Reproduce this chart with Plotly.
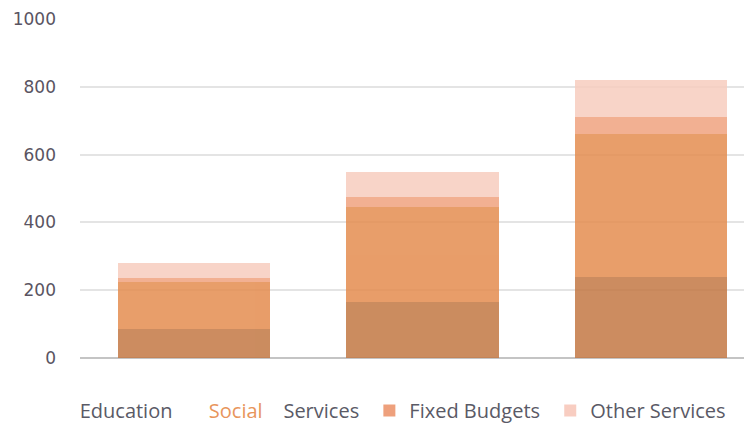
import plotly.graph_objects as go

categories = ["Group A", "Group B", "Group C"]
education = [85, 165, 240]
social_services = [140, 280, 420]
fixed_budgets = [10, 30, 50]
other_services = [45, 75, 110]
y_ticks = [0, 200, 400, 600, 800, 1000]

fig = go.Figure()
op = 0.85
fig.add_trace(go.Bar(x=categories, y=education, name="Education",
                     marker=dict(color="rgb(195,120,68)", line=dict(width=0)), opacity=op, showlegend=False))
fig.add_trace(go.Bar(x=categories, y=social_services, name="Social Services",
                     marker=dict(color="rgb(228,141,80)", line=dict(width=0)), opacity=op, showlegend=False))
fig.add_trace(go.Bar(x=categories, y=fixed_budgets, name="Fixed Budgets",
                     marker=dict(color="rgb(240,162,127)", line=dict(width=0)), opacity=op, showlegend=False))
fig.add_trace(go.Bar(x=categories, y=other_services, name="Other Services",
                     marker=dict(color="rgb(247,205,190)", line=dict(width=0)), opacity=op, showlegend=False))

# legend entries (Education and Social Services appear without a swatch in the reference)
legend_items = [
    ("Education       <span style='color:#e8955c'>Social</span>    Services ", "rgba(0,0,0,0)"),
    ("Fixed Budgets ", "rgba(236,150,110,0.9)"),
    ("Other Services", "rgba(247,200,186,0.9)"),
]
for name, col in legend_items:
    fig.add_trace(go.Bar(x=[None], y=[None], name=name, marker=dict(color=col, line=dict(width=0))))

fig.update_layout(
    barmode="stack",
    bargap=0.333,
    width=744, height=415,
    margin=dict(l=72, r=0, t=11, b=65, autoexpand=False),
    plot_bgcolor="white", paper_bgcolor="white",
    xaxis=dict(range=[-0.5, 2.443], showticklabels=False, showgrid=False, zeroline=False,
               showline=False, ticks=""),
    yaxis=dict(range=[0, 1000], tickvals=y_ticks, showgrid=True, gridcolor="#e4e4e4", gridwidth=1.5,
               zeroline=True, zerolinecolor="#c4c4c4", zerolinewidth=2, ticks="",
               tickfont=dict(family="DejaVu Sans", size=17, color="#5a5462"),
               ticklabelstandoff=23),
    legend=dict(orientation="h", x=-0.06, xanchor="left", y=-0.097, yanchor="top",
                font=dict(family="Open Sans", size=20, color="#5a5a66"),
                traceorder="normal", itemclick=False),
    showlegend=True,
)

fig.write_html("out.html")
